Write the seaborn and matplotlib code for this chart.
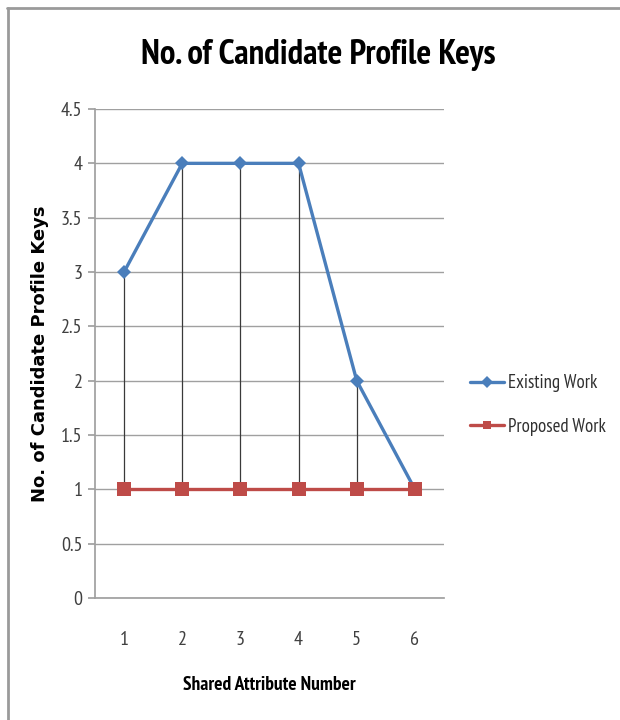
import matplotlib
matplotlib.use("Agg")
import matplotlib.pyplot as plt
from matplotlib import font_manager
import seaborn as sns
import pandas as pd

attributes = [1, 2, 3, 4, 5, 6]
existing_work = [3, 4, 4, 4, 2, 1]
proposed_work = [1, 1, 1, 1, 1, 1]
y_ticks = [0, 0.5, 1, 1.5, 2, 2.5, 3, 3.5, 4, 4.5]

sns.set_theme(style="white")

available = {f.name for f in font_manager.fontManager.ttflist}
narrow = next((n for n in ["PT Sans Narrow", "Asap Condensed", "Roboto Condensed", "Carlito"]
               if n in available), "DejaVu Sans")
plt.rcParams["font.family"] = [narrow, "DejaVu Sans"]

df = pd.DataFrame({
    "Shared Attribute Number": attributes * 2,
    "Keys": existing_work + proposed_work,
    "Series": ["Existing Work"] * len(attributes) + ["Proposed Work"] * len(attributes),
})

fig = plt.figure(figsize=(6.2, 7.2), dpi=100)
ax = fig.add_axes([0.1532, 0.1694, 0.5629, 0.6792])

# high-low lines between the two series
ax.vlines(attributes, proposed_work, existing_work, colors="#3A3A3A", linewidth=0.9, zorder=2)

palette = {"Existing Work": "#4A7EBB", "Proposed Work": "#BE4B48"}
markers = {"Existing Work": "D", "Proposed Work": "s"}
sizes = {"Existing Work": 7, "Proposed Work": 9.5}
for name in ["Existing Work", "Proposed Work"]:
    sub = df[df["Series"] == name]
    sns.lineplot(data=sub, x="Shared Attribute Number", y="Keys", ax=ax,
                 color=palette[name], marker=markers[name], markersize=sizes[name],
                 markeredgewidth=0, linewidth=2.4, label=name, zorder=3)

ax.set_xlim(0.5, 6.5)
ax.set_ylim(0, 4.5)
ax.set_yticks(y_ticks)
ax.set_yticklabels([f"{t:g}" for t in y_ticks])
ax.set_xticks(attributes)
ax.yaxis.grid(True, color="#A0A0A0", linewidth=1.0)
ax.xaxis.grid(False)
for side in ["top", "right"]:
    ax.spines[side].set_visible(False)
ax.spines["left"].set_color("#A0A0A0")
ax.spines["bottom"].set_color("#A0A0A0")
ax.tick_params(axis="y", left=True, length=5, color="#A0A0A0", labelsize=14.5, labelcolor="#404040", pad=4)
ax.tick_params(axis="x", bottom=False, labelsize=14.5, labelcolor="#404040", pad=18)

ax.set_xlabel("Shared Attribute Number", fontsize=14, fontweight="bold", labelpad=19, color="black")
ax.set_ylabel("No. of Candidate Profile Keys", fontsize=13, fontweight="bold",
              family="DejaVu Sans", color="black")
ax.yaxis.set_label_coords(-0.132, 0.5)

fig.text(0.513, 0.924, "No. of Candidate Profile Keys", ha="center", va="center",
         fontsize=25, fontweight="bold", color="black")

handles, labels = ax.get_legend_handles_labels()
leg = fig.legend(handles, labels, loc="center left", bbox_to_anchor=(0.758, 0.4375),
                 frameon=False, fontsize=13.5, handlelength=1.8, labelspacing=1.35,
                 handletextpad=0.25, borderpad=0, borderaxespad=0)
ax.get_legend().remove()
for h in leg.legend_handles:
    h.set_markersize(6)
for t in leg.get_texts():
    t.set_color("#303030")

# chart frame lines along the top and left edges
fig.add_artist(plt.Line2D([0.011, 1.0], [0.989, 0.989], color="#9A9A9A", linewidth=2.0))
fig.add_artist(plt.Line2D([0.013, 0.013], [0.0, 0.989], color="#9A9A9A", linewidth=2.0))

fig.savefig("out.png", dpi=100, facecolor="white")
